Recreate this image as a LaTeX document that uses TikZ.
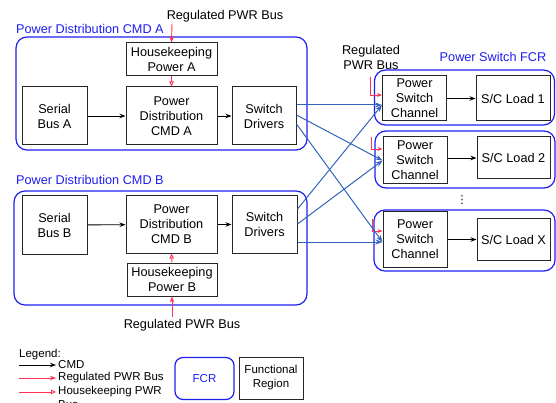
\documentclass[tikz,border=0pt]{standalone}
\usepackage{fontspec}
\setmainfont{Liberation Sans}
\newfontfamily\symbolfont{DejaVu Sans}
\usetikzlibrary{arrows.meta}
\definecolor{regblue}{RGB}{30,30,240}
\definecolor{linkblue}{RGB}{50,100,185}
\definecolor{pwrred}{RGB}{255,50,85}
\tikzset{
  txt/.style={inner sep=0pt, font=\fontsize{12.7}{15}\selectfont, align=center},
  smalltxt/.style={inner sep=0pt, font=\fontsize{11.5}{14}\selectfont, align=left},
  fbox/.style={draw=black!85, line width=1pt, inner sep=0pt, align=center,
    font=\fontsize{12.7}{15}\selectfont},
  region/.style={draw=regblue, line width=1.2pt, rounded corners=11pt, inner sep=0pt},
  cmd/.style={draw=black, line width=0.9pt, -{Stealth[length=6pt,width=4.5pt]}},
  regpwr/.style={draw=pwrred, line width=0.9pt, -{Stealth[length=6pt,width=4.5pt]}},
  hkpwr/.style={draw=pwrred, line width=0.9pt, -{Triangle[open,length=5pt,width=4.5pt]}},
  link/.style={draw=linkblue, line width=1pt, -{Stealth[length=7pt,width=5pt]}},
}
\begin{document}
\begin{tikzpicture}[x=1pt,y=-1pt]
\useasboundingbox (0,0) rectangle (556,403);

% ---------------- Command unit A ----------------
\node[region, minimum width=291pt, minimum height=113pt] (regA) at (161.5,93.5) {};
\node[txt, text=regblue, anchor=west] (titleA) at (16,29) {Power Distribution CMD A};
\node[txt] (busA) at (225,16) {Regulated PWR Bus};
\coordinate (busAin) at (172,24);
\node[fbox, minimum width=91pt, minimum height=33pt] (hkA) at (171.5,59.5) {Housekeeping\\Power A};
\node[fbox, minimum width=65pt, minimum height=58pt] (serA) at (54.5,116) {Serial\\Bus A};
\node[fbox, minimum width=91pt, minimum height=58pt] (pdA) at (171.5,116) {Power\\Distribution\\CMD A};
\node[fbox, minimum width=64pt, minimum height=58pt] (swA) at (264,116) {Switch\\Drivers};

\draw[regpwr] (busAin) -- (hkA.north);
\draw[hkpwr] (hkA.south) -- (pdA.north);
\draw[cmd] (serA) -- (pdA);
\draw[cmd] (pdA) -- (swA);

% ---------------- Command unit B ----------------
\node[region, minimum width=293pt, minimum height=114pt] (regB) at (160.5,248) {};
\node[txt, text=regblue, anchor=west] (titleB) at (16,180) {Power Distribution CMD B};
\node[fbox, minimum width=65pt, minimum height=58pt] (serB) at (54.5,225) {Serial\\Bus B};
\node[fbox, minimum width=91pt, minimum height=57pt] (pdB) at (171.5,224.5) {Power\\Distribution\\CMD B};
\node[fbox, minimum width=65pt, minimum height=57pt] (swB) at (264.5,224.5) {Switch\\Drivers};
\node[fbox, minimum width=90pt, minimum height=33pt] (hkB) at (172,279.5) {Housekeeping\\Power B};
\node[txt] (busB) at (182,325) {Regulated PWR Bus};
\coordinate (busBin) at (172,317);

\draw[regpwr] (busBin) -- (hkB.south);
\draw[hkpwr] (hkB.north) -- (pdB.south);
\draw[cmd] (serB) -- (pdB);
\draw[cmd] (pdB) -- (swB);

% ---------------- Power switch FCRs ----------------
\node[txt] (busR) at (371,57) {Regulated\\PWR Bus};
\node[txt, text=regblue] (titleR) at (493,57) {Power Switch FCR};

\node[region, minimum width=180pt, minimum height=55pt] (fcr1) at (464.5,97.5) {};
\node[fbox, minimum width=64pt, minimum height=45pt] (psc1) at (414.5,98) {Power\\Switch\\Channel};
\node[fbox, minimum width=74pt, minimum height=45pt] (load1) at (513,98.5) {S/C Load 1};

\node[region, minimum width=180pt, minimum height=57pt] (fcr2) at (465,159.5) {};
\node[fbox, minimum width=64pt, minimum height=47pt] (psc2) at (415,160.5) {Power\\Switch\\Channel};
\node[fbox, minimum width=73pt, minimum height=42pt] (load2) at (513.5,158) {S/C Load 2};

\node[inner sep=0pt, font=\symbolfont\fontsize{11}{11}\selectfont] (dots) at (462,200) {⋮};

\node[region, minimum width=181pt, minimum height=61pt] (fcr3) at (464.5,240.5) {};
\node[fbox, minimum width=64pt, minimum height=55pt] (psc3) at (415,239.5) {Power\\Switch\\Channel};
\node[fbox, minimum width=73pt, minimum height=42pt] (load3) at (513.5,239.5) {S/C Load X};

\draw[cmd] (psc1.east |- load1.west) -- (load1.west);
\draw[cmd] (psc2.east |- load2.west) -- (load2.west);
\draw[cmd] (psc3.east |- load3.west) -- (load3.west);

% regulated power feeds into each switch channel
\coordinate (feed1) at (370.5,77);
\coordinate (feed2) at (371,137);
\coordinate (feed3) at (372,219);
\draw[regpwr, -{Stealth[length=5pt,width=4pt]}] (feed1) |- ([yshift=3pt]psc1.west);
\draw[regpwr, -{Stealth[length=5pt,width=4pt]}] (feed2) |- ([yshift=11.5pt]psc2.west);
\draw[regpwr, -{Stealth[length=5pt,width=4pt]}] (feed3) |- ([yshift=8.5pt]psc3.west);

% switch driver outputs to the switch channels
\draw[link] ([yshift=11pt]swA.east) -- ([yshift=-7pt]psc1.west);
\draw[link] ([yshift=1pt]swA.east) -- (psc2.west);
\draw[link] ([yshift=-8pt]swA.east) -- ([yshift=-2.5pt]psc3.west);
\draw[link] ([yshift=15.5pt]swB.east) -- ([yshift=-7pt]psc1.west);
\draw[link] ([yshift=0.5pt]swB.east) -- (psc2.west);
\draw[link] ([yshift=-17.5pt]swB.east) -- ([yshift=-2.5pt]psc3.west);

% ---------------- Legend ----------------
\node[smalltxt, anchor=west] (lgTitle) at (19,355) {Legend:};
\coordinate (lg1a) at (19,365);
\coordinate (lg1b) at (56,365);
\coordinate (lg2a) at (19,378);
\coordinate (lg2b) at (56,378);
\coordinate (lg3a) at (19,392);
\coordinate (lg3b) at (56,392);
\draw[cmd] (lg1a) -- (lg1b);
\draw[regpwr] (lg2a) -- (lg2b);
\draw[hkpwr] (lg3a) -- (lg3b);
\node[smalltxt, anchor=west] (lgCmd) at (58,365) {CMD};
\node[smalltxt, anchor=west] (lgReg) at (58,378) {Regulated PWR Bus};
\node[smalltxt, anchor=north west] (lgHk) at (58,386) {Housekeeping PWR\\Bus};
\node[region, rounded corners=8pt, minimum width=59pt, minimum height=42pt,
  font=\fontsize{11.5}{14}\selectfont, text=regblue] (lgFcr) at (204.5,378.5) {FCR};
\node[fbox, minimum width=64pt, minimum height=42pt,
  font=\fontsize{11.5}{14}\selectfont] (lgFr) at (271,378) {Functional\\Region};
\end{tikzpicture}
\end{document}
